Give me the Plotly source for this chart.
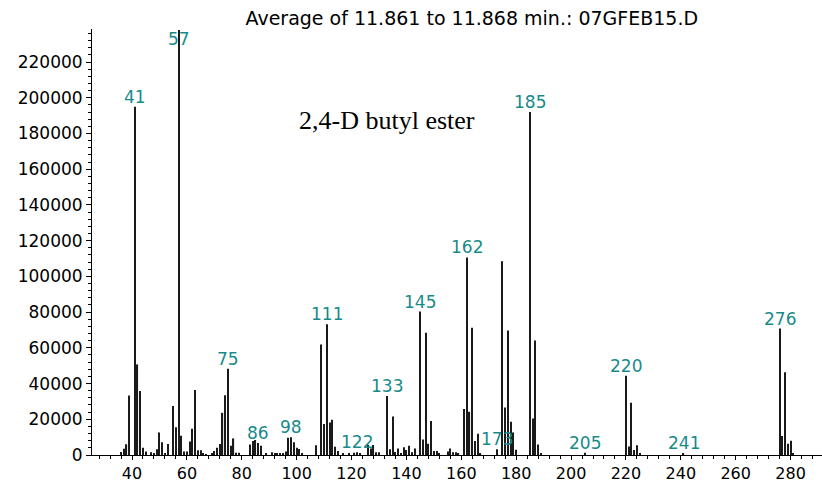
import plotly.graph_objects as go

# m/z values and abundances
mz = [36, 37, 38, 39, 41, 42, 43, 44, 45, 47, 48, 49, 50, 51, 52, 53, 55, 56, 57, 58,
      59, 60, 61, 62, 63, 64, 65, 66, 67, 69, 70, 71, 72, 73, 74, 75, 76, 77, 78, 79,
      83, 84, 85, 86, 87, 89, 91, 92, 93, 94, 95, 96, 97, 98, 99, 100, 101, 102,
      107, 109, 110, 111, 112, 113, 114, 115, 117, 119, 121, 122, 123, 126, 127, 128,
      129, 130, 133, 134, 135, 136, 137, 138, 139, 140, 141, 142, 143, 145, 146, 147,
      148, 149, 150, 151, 152, 155, 156, 157, 158, 159, 161, 162, 163, 164, 165, 166,
      167, 173, 175, 176, 177, 178, 179, 180, 185, 186, 187, 188, 189, 205, 220, 221,
      222, 223, 224, 225, 241, 276, 277, 278, 279, 280, 281]
abundance = [1700, 3500, 6000, 33300, 195000, 50700, 35900, 4100, 2000, 1500, 900, 3200,
             12600, 7200, 1100, 6100, 27500, 15600, 238000, 10800,
             2000, 2000, 7600, 14700, 36400, 2600, 2600, 600, 400, 900, 2200, 4100, 6100,
             23600, 33500, 48300, 5200, 9300, 1300, 1300,
             5900, 7800, 8400, 6700, 5200, 600, 1500, 800, 800, 800, 800, 2000, 9700, 10000,
             7200, 4100, 3300, 1000,
             5400, 61900, 17300, 73200, 18200, 19700, 4600, 2200, 1000, 800, 1200, 1500, 800,
             5600, 3700, 5600,
             1500, 1500, 33100, 3200, 21600, 1700, 3700, 1100, 4300, 2800, 5200, 1500, 3700,
             80300, 8700, 68400,
             6300, 19100, 2200, 2200, 800, 1900, 3700, 1500, 1500, 800, 25800, 110600, 24200,
             71200, 7800, 11900,
             1000, 3200, 108500, 26600, 69700, 18600, 12600, 3000, 192000, 20400, 64100, 5900,
             1000, 1300, 44400, 4800,
             29200, 2800, 5400, 800, 1000, 70800, 10600, 46300, 6300, 8000, 1000]

label_mz = [41, 57, 75, 86, 98, 111, 122, 133, 145, 162, 173, 185, 205, 220, 241, 276]
label_text = [str(m) for m in label_mz]

title_text = "Average of 11.861 to 11.868 min.: 07GFEB15.D"
compound = "2,4-D butyl ester"

Y_MAX = 238500
X_RANGE = [25.42, 291.45]

lookup = dict(zip(mz, abundance))

fig = go.Figure()
fig.add_trace(go.Bar(x=mz, y=abundance, width=0.42,
                     marker=dict(color="#1a1a1a", line=dict(width=0)),
                     hoverinfo="x+y"))

teal = "#178a8a"
for m, t in zip(label_mz, label_text):
    yv = min(lookup.get(m, 0), Y_MAX - 11000)
    fig.add_annotation(x=m, y=yv, text=t, showarrow=False, xanchor="center",
                       yanchor="bottom", yshift=-2,
                       font=dict(family="DejaVu Sans", size=17, color=teal))

fig.add_annotation(xref="paper", yref="paper", x=0.4035, y=0.7845, text=compound,
                   showarrow=False, xanchor="center", yanchor="middle",
                   font=dict(family="Liberation Serif", size=26, color="black"))

fig.update_layout(
    width=822, height=483,
    margin=dict(l=92, r=0, t=29, b=28, autoexpand=False),
    paper_bgcolor="white", plot_bgcolor="white",
    showlegend=False,
    title=dict(text=title_text, x=0.574, xref="container", xanchor="center",
               y=1 - 18 / 483, yref="container", yanchor="middle",
               font=dict(family="DejaVu Sans", size=19, color="black")),
    font=dict(family="DejaVu Sans", color="black"),
)
fig.update_xaxes(range=X_RANGE, dtick=20, tick0=0, showgrid=False, zeroline=False,
                 automargin=False,
                 showline=True, linecolor="black", linewidth=1,
                 ticks="outside", ticklen=4, tickcolor="black", tickwidth=1,
                 tickfont=dict(family="DejaVu Sans", size=16, color="black"),
                 minor=dict(dtick=4, tick0=0, ticks="outside", ticklen=3,
                            tickcolor="black", tickwidth=1, showgrid=False))
fig.update_yaxes(range=[0, Y_MAX], dtick=20000, tick0=0, tickformat="d",
                 showgrid=False, zeroline=False, automargin=False,
                 showline=True, linecolor="black", linewidth=1,
                 ticks="outside", ticklen=5, tickcolor="black", tickwidth=1,
                 tickfont=dict(family="DejaVu Sans", size=17, color="black"),
                 minor=dict(dtick=4000, tick0=0, ticks="outside", ticklen=3,
                            tickcolor="black", tickwidth=1, showgrid=False))

fig.write_html("out.html")
